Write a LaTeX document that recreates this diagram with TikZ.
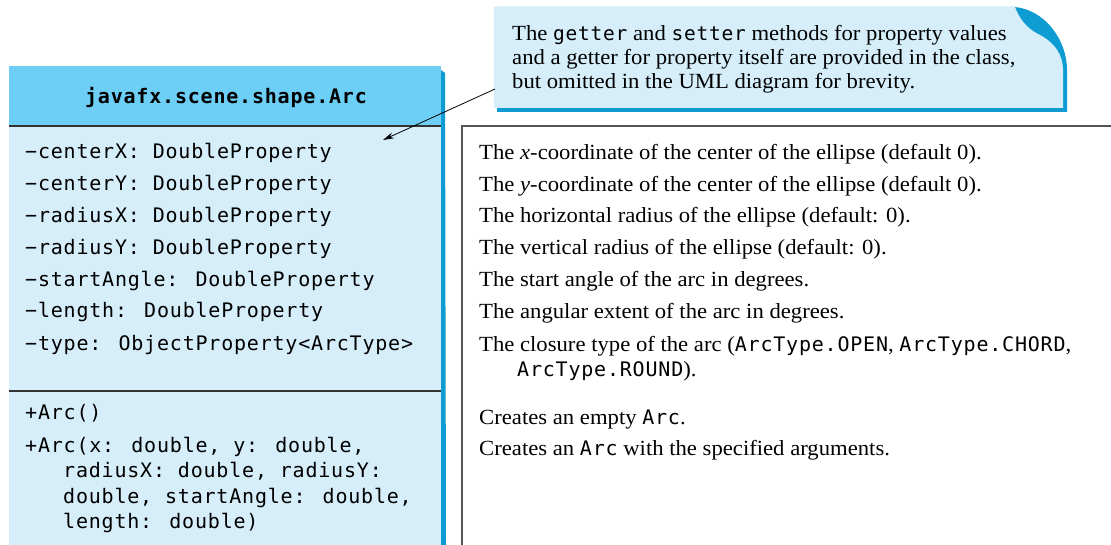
\documentclass[tikz,border=0pt]{standalone}
\usepackage{fontspec}
\setmainfont[FakeStretch=1.05]{Liberation Serif}
\newfontfamily\cmono[LetterSpace=4]{DejaVu Sans Mono}
\usetikzlibrary{arrows.meta}
\definecolor{hdr}{HTML}{6ECFF6}
\definecolor{bodyc}{HTML}{D5EEFA}
\definecolor{shad}{HTML}{0E9CD2}
\definecolor{linec}{HTML}{333333}
\definecolor{panelc}{HTML}{555555}
\begin{document}
\begin{tikzpicture}[x=1pt,y=-1pt,
  attr/.style={anchor=base west,inner sep=0pt,font=\cmono\fontsize{20}{24}\selectfont},
  hdrtxt/.style={anchor=base,inner sep=0pt,font=\cmono\bfseries\fontsize{20}{24}\selectfont},
  desc/.style={anchor=base west,inner sep=0pt,font=\fontsize{21.6}{24}\selectfont},
  notetxt/.style={anchor=base west,inner sep=0pt,font=\fontsize{21.6}{24}\selectfont},
  sepline/.style={draw=linec,line width=1.6pt},
  panelline/.style={draw=panelc,line width=1.5pt}]
\useasboundingbox (0,0) rectangle (1111,545);
\newcommand{\dm}[1]{{\cmono\fontsize{20}{24}\selectfont #1}}
\newcommand{\nm}[1]{{\cmono\fontsize{19.5}{24}\selectfont #1}}
% class box
\fill[shad] (441,70) -- (445,73) -- (446,545) -- (441,545) -- cycle;
\fill[hdr] (9,66) rectangle (441,126);
\fill[bodyc] (9,126) rectangle (441,545);
\draw[sepline] (9,126) -- (441,126);
\draw[sepline] (9,391) -- (441,391);
\node[hdrtxt] (hdr) at (226,104) {javafx.scene.shape.Arc};
\node[attr] (a1) at (25,159) {−centerX: DoubleProperty};
\node[attr] (a2) at (25,191) {−centerY: DoubleProperty};
\node[attr] (a3) at (25,223) {−radiusX: DoubleProperty};
\node[attr] (a4) at (25,255) {−radiusY: DoubleProperty};
\node[attr] (a5) at (25,287) {−startAngle: DoubleProperty};
\node[attr] (a6) at (25,318) {−length: DoubleProperty};
\node[attr] (a7) at (25,350) {−type: ObjectProperty<ArcType>};
\node[attr] (m1) at (25,419) {+Arc()};
\node[attr] (m2) at (25,452) {+Arc(x: double, y: double,};
\node[attr] (m3) at (63,477) {radiusX: double, radiusY:};
\node[attr] (m4) at (63,503) {double, startAngle: double,};
\node[attr] (m5) at (63,528) {length: double)};
% right panel
\draw[panelline] (1112,126) -- (462,126) -- (462,546);
\node[desc] (d1) at (479,160) {The \textit{x}-coordinate of the center of the ellipse (default 0).};
\node[desc] (d2) at (479,192) {The \textit{y}-coordinate of the center of the ellipse (default 0).};
\node[desc] (d3) at (479,223) {The horizontal radius of the ellipse (default: 0).};
\node[desc] (d4) at (479,255) {The vertical radius of the ellipse (default: 0).};
\node[desc] (d5) at (479,287) {The start angle of the arc in degrees.};
\node[desc] (d6) at (479,319) {The angular extent of the arc in degrees.};
\node[desc] (d7) at (479,351) {The closure type of the arc (\dm{ArcType.OPEN}, \dm{ArcType.CHORD},};
\node[desc] (d7b) at (517,376) {\dm{ArcType.ROUND}).};
\node[desc] (d8) at (479,424) {Creates an empty \dm{Arc}.};
\node[desc] (d9) at (479,455) {Creates an \dm{Arc} with the specified arguments.};
% note
\fill[shad] (497,112) -- (1067,112) -- (1067,70) .. controls (1067,40) and (1045,10) .. (1015,7) -- (497,7) -- cycle;
\fill[bodyc] (494,7) -- (1015,7) .. controls (1022,25) and (1032,31) .. (1040,35) .. controls (1055,43) and (1063,55) .. (1063,70) -- (1063,108) -- (494,108) -- cycle;
\node[notetxt] (n1) at (512,41) {The \nm{getter} and \nm{setter} methods for property values};
\node[notetxt] (n2) at (512,65) {and a getter for property itself are provided in the class,};
\node[notetxt] (n3) at (512,89) {but omitted in the UML diagram for brevity.};
\coordinate (nt) at (495,89);
\coordinate (ah) at (383,140);
\draw[line width=0.8pt,-{Stealth[length=11pt,width=6pt]}] (nt) -- (ah);
\end{tikzpicture}
\end{document}
